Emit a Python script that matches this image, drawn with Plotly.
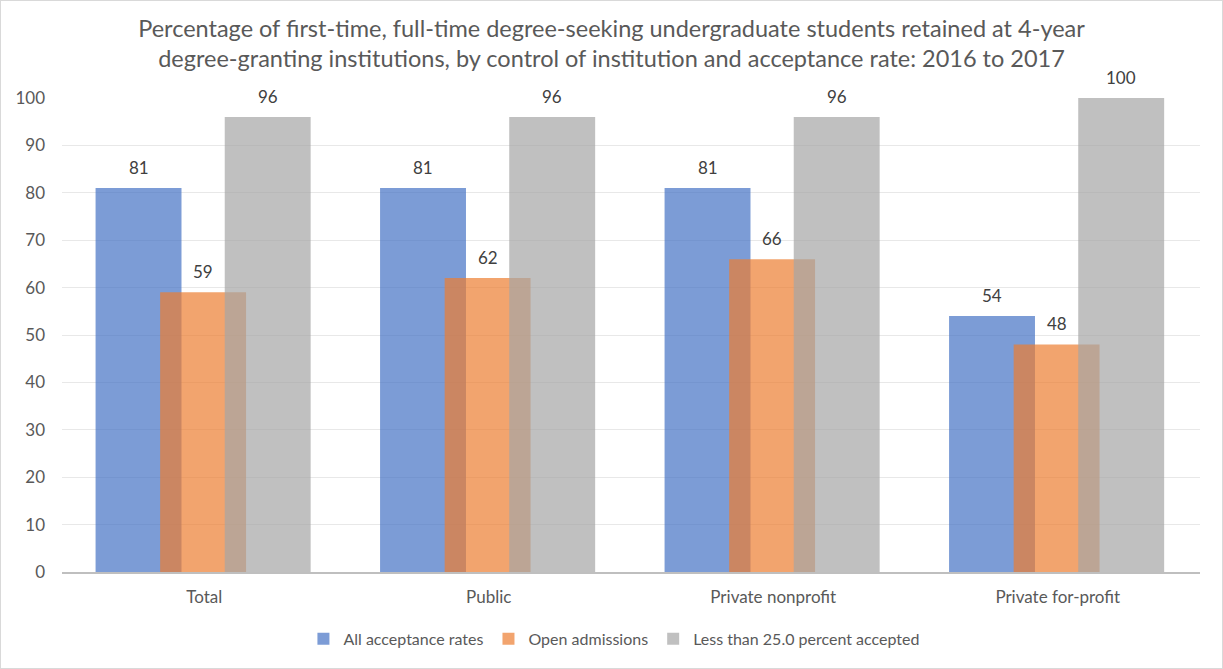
import plotly.graph_objects as go

categories = ["Total", "Public", "Private nonprofit", "Private for-profit"]
all_rates = [81, 81, 81, 54]
open_adm = [59, 62, 66, 48]
less_25 = [96, 96, 96, 100]
series_names = ["All acceptance rates", "Open admissions", "Less than 25.0 percent accepted"]
colors = ["rgba(68,114,196,0.7)", "rgba(237,125,49,0.7)", "rgba(165,165,165,0.7)"]
offsets = [-0.382, -0.155, 0.072]
width = 0.302

FONT = "Lato"
x = list(range(len(categories)))

fig = go.Figure()
annotations = []
for name, vals, col, off in zip(series_names, [all_rates, open_adm, less_25], colors, offsets):
    fig.add_trace(go.Bar(
        x=x, y=vals, name=name, marker=dict(color=col, line=dict(width=0)),
        width=width, offset=off,
    ))
    for xi, v in zip(x, vals):
        annotations.append(dict(
            x=xi + off + width / 2, y=v, xref="x", yref="y",
            text=str(v), showarrow=False, yanchor="bottom", yshift=8,
            font=dict(family=FONT, size=17, color="#404040"),
        ))

fig.update_layout(
    barmode="overlay",
    width=1223, height=669,
    paper_bgcolor="white", plot_bgcolor="white",
    margin=dict(l=62, r=23, t=98, b=97),
    title=dict(
        text="Percentage of first-time, full-time degree-seeking undergraduate students retained at 4-year<br>degree-granting institutions, by control of institution and acceptance rate: 2016 to 2017",
        x=0.5, xanchor="center", y=0.945, yanchor="top",
        font=dict(family=FONT, size=23.5, color="#595959"),
    ),
    xaxis=dict(
        tickvals=x, ticktext=categories, range=[-0.5, 3.5],
        showgrid=False, showline=True, linecolor="#BFBFBF", linewidth=2,
        ticks="", ticklabelstandoff=9,
        tickfont=dict(family=FONT, size=17, color="#595959"),
    ),
    yaxis=dict(
        range=[0, 100], dtick=10, showgrid=True, gridcolor="#E8E8E8", gridwidth=1,
        zeroline=False, ticks="", showline=False, ticklabelstandoff=16,
        tickfont=dict(family=FONT, size=17, color="#595959"),
    ),
    legend=dict(
        orientation="h", x=0.485, xanchor="center", y=-0.105, yanchor="top",
        font=dict(family=FONT, size=16, color="#595959"),
        traceorder="normal", itemwidth=30,
    ),
    annotations=annotations,
    showlegend=True,
    shapes=[dict(type="rect", xref="paper", yref="paper", x0=-62/1138, x1=1+23/1138,
                 y0=-97/474, y1=1+98/474, line=dict(color="#D9D9D9", width=2))],
)

fig.write_html("out.html")
